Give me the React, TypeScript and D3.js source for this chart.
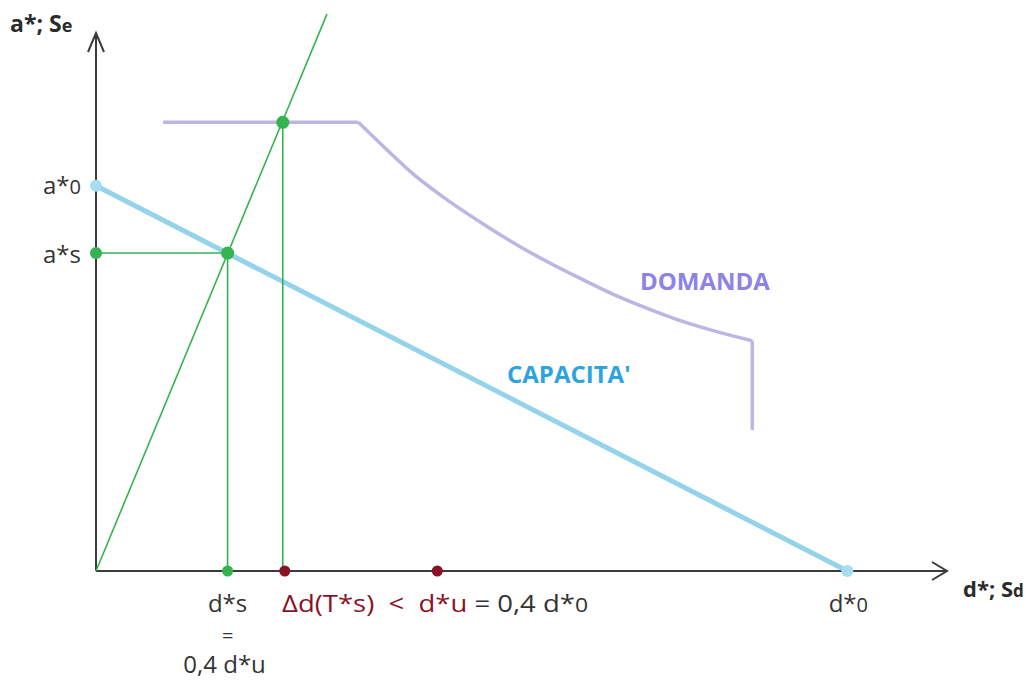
import * as d3 from "d3";

// valori (unità arbitrarie: spostamento 0-100, accelerazione 0-100)
const capacityPts = [
  { d: 0, a: 71.6 }, // a*0
  { d: 88.5, a: 0 }, // d*0
];
const demandPlateau = [
  { d: 7.9, a: 83.4 },
  { d: 30.9, a: 83.4 },
];
const demandCurve = [
  { d: 30.9, a: 83.4 },
  { d: 33.8, a: 79.0 },
  { d: 37.8, a: 73.2 },
  { d: 41.7, a: 68.6 },
  { d: 45.6, a: 64.5 },
  { d: 49.6, a: 60.6 },
  { d: 53.5, a: 57.2 },
  { d: 57.4, a: 54.1 },
  { d: 61.4, a: 51.1 },
  { d: 65.3, a: 48.6 },
  { d: 69.1, a: 46.4 },
  { d: 73.1, a: 44.5 },
  { d: 77.3, a: 42.8 },
];
const demandDrop = [
  { d: 77.3, a: 42.8 },
  { d: 77.3, a: 26.2 },
];
const elasticPts = [
  { d: 0, a: 0 },
  { d: 27.2, a: 103.5 },
];
const dS = 15.5; // d*s
const aS = 59.1; // a*s
const dT = 22.0; // Δd(T*s)
const aT = 83.4;
const dU = 40.2; // d*u

const W = 1032;
const H = 684;

const x = d3.scaleLinear().domain([0, 100]).range([96, 945]);
const y = d3.scaleLinear().domain([0, 100]).range([571, 33]);

type P = { d: number; a: number };
const line = d3
  .line<P>()
  .x((p) => x(p.d))
  .y((p) => y(p.a));
const smooth = d3
  .line<P>()
  .x((p) => x(p.d))
  .y((p) => y(p.a))
  .curve(d3.curveMonotoneX);

const green = "#35b34f";
const darkRed = "#8a1226";
const font = "'Open Sans', sans-serif";
const sp = "\u00a0\u00a0";

export default function App() {
  return (
    <svg
      width={W}
      height={H}
      style={{ position: "absolute", left: 0, top: 0, background: "#fff" }}
      fontFamily={font}
    >
      {/* assi */}
      <g stroke="#3b3b3b" strokeWidth={2} fill="none">
        <line x1={x(0)} y1={y(0)} x2={x(0)} y2={y(100)} />
        <polyline points={`${x(0) - 8},${y(100) + 19} ${x(0)},${y(100)} ${x(0) + 8},${y(100) + 19}`} />
        <line x1={x(0)} y1={y(0)} x2={x(100) + 2} y2={y(0)} />
        <polyline points={`${x(100) - 13},${y(0) - 9} ${x(100) + 2},${y(0)} ${x(100) - 13},${y(0) + 9}`} />
      </g>

      {/* domanda */}
      <g fill="none" stroke="#bdb5e4" strokeWidth={3.5} strokeLinejoin="round">
        <path d={line(demandPlateau) ?? ""} />
        <path d={smooth(demandCurve) ?? ""} />
        <path d={line(demandDrop) ?? ""} />
      </g>

      {/* capacità */}
      <path d={line(capacityPts) ?? ""} fill="none" stroke="#94d3ea" strokeWidth={5} />
      {capacityPts.map((p, i) => (
        <circle key={i} cx={x(p.d)} cy={y(p.a)} r={6} fill="#a8dcef" />
      ))}

      {/* retta elastica e proiezioni */}
      <g stroke={green} strokeWidth={1.6} fill="none">
        <path d={line(elasticPts) ?? ""} />
        <line x1={x(0)} y1={y(aS)} x2={x(dS)} y2={y(aS)} />
        <line x1={x(dS)} y1={y(aS)} x2={x(dS)} y2={y(0)} />
        <line x1={x(dT)} y1={y(aT)} x2={x(dT)} y2={y(0)} />
      </g>
      <g fill={green}>
        <circle cx={x(0)} cy={y(aS)} r={6} />
        <circle cx={x(dS)} cy={y(aS)} r={6.5} />
        <circle cx={x(dT)} cy={y(aT)} r={6.5} />
        <circle cx={x(dS)} cy={y(0)} r={5.5} />
      </g>
      <g fill={darkRed}>
        <circle cx={x(dT) + 2} cy={y(0)} r={5.5} />
        <circle cx={x(dU)} cy={y(0)} r={5.5} />
      </g>

      {/* etichette assi */}
      <text x={10} y={32} fontSize={23} fontWeight="bold" fill="#2b2b2b">
        a*; S<tspan fontSize={18}>e</tspan>
      </text>
      <text x={963} y={597} fontSize={22} fontWeight="bold" fill="#2b2b2b">
        d*; S<tspan fontSize={17}>d</tspan>
      </text>

      <g fontSize={24} fill="#333">
        <text x={81} y={y(capacityPts[0].a) + 8} textAnchor="end">
          a*<tspan fontSize={20}>0</tspan>
        </text>
        <text x={81} y={y(aS) + 10} textAnchor="end">
          a*s
        </text>
        <text x={x(dS)} y={612} textAnchor="middle">
          d*s
        </text>
        <text x={x(dS)} y={643} fontSize={20} textAnchor="middle">
          =
        </text>
        <text x={x(dS) - 3} y={673} textAnchor="middle">
          0,4 d*u
        </text>
        <text x={x(capacityPts[1].d) + 1} y={612} textAnchor="middle">
          d*<tspan fontSize={20}>0</tspan>
        </text>
        <text x={282} y={612} textLength={306} lengthAdjust="spacingAndGlyphs">
          <tspan fill={darkRed}>{`Δd(T*s)${sp}<${sp}d*u`}</tspan>
          <tspan>{" = 0,4 d*"}</tspan>
          <tspan fontSize={20}>0</tspan>
        </text>
      </g>

      <text x={640} y={290} fontSize={24} fontWeight="bold" fill="#8d82e6">
        DOMANDA
      </text>
      <text x={507} y={383} fontSize={24} fontWeight="bold" fill="#2ea4dc">
        CAPACITA'
      </text>
    </svg>
  );
}
